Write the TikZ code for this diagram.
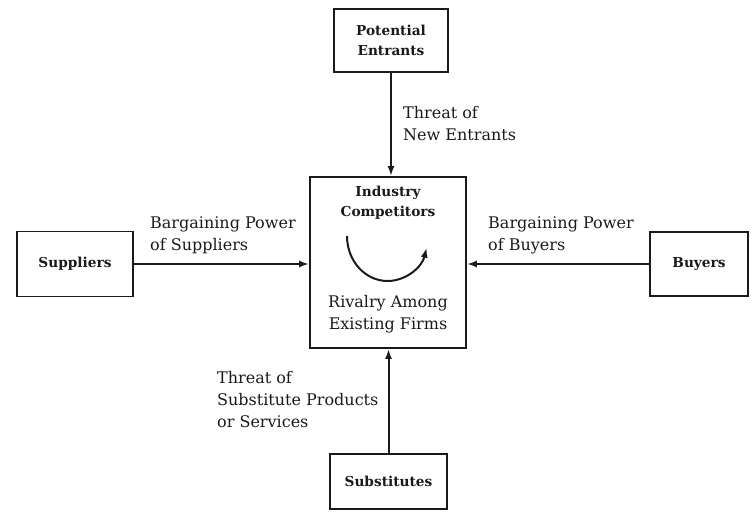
\documentclass[tikz,border=0pt]{standalone}
\usepackage{fontspec}
\setmainfont{DejaVu Serif}
\usetikzlibrary{arrows.meta}
\definecolor{ink}{HTML}{1A1A1A}
\tikzset{
  force/.style={draw=ink, line width=1.8pt, inner sep=0pt},
  boxtext/.style={font=\bfseries\fontsize{13.7}{20}\selectfont, text=ink, align=center},
  lbl/.style={font=\fontsize{16}{22}\selectfont, text=ink, align=left, anchor=west, inner sep=0pt},
  flowline/.style={draw=ink, line width=2pt, -{Latex[length=10pt,width=7pt]}}
}
\begin{document}
\begin{tikzpicture}[x=1pt,y=1pt]
\useasboundingbox (0,0) rectangle (752,512);

% the five forces
\node[force, boxtext, minimum width=114pt, minimum height=63pt] (pe) at (391,471.5) {Potential\\Entrants};
\node[force, minimum width=156pt, minimum height=171pt] (ic) at (388,249.5) {};
\node[force, boxtext, minimum width=116pt, minimum height=65pt] (sup) at (75,248) {Suppliers};
\node[force, boxtext, minimum width=98pt, minimum height=64pt] (buy) at (699,248) {Buyers};
\node[force, boxtext, minimum width=117pt, minimum height=55pt] (sub) at (388.5,30.5) {Substitutes};

% contents of the central box
\node[boxtext] (ictitle) at (388,309) {Industry\\Competitors};
\node[font=\fontsize{16}{22}\selectfont, text=ink, align=center] (rivalry) at (388,197.5) {Rivalry Among\\Existing Firms};
\coordinate (rs) at (347,276);
\draw[flowline, line width=2pt] (rs) arc[start angle=180, end angle=345, x radius=40.5pt, y radius=45pt];

% arrows into the industry
\draw[flowline, line width=2pt] (pe.south) -- (pe.south |- ic.north);
\draw[flowline, line width=2pt] (sub.north) -- (sub.north |- ic.south);
\draw[flowline, line width=2pt] (sup.east) -- (sup.east -| ic.west);
\draw[flowline, line width=2pt] (buy.west) -- (buy.west -| ic.east);

% arrow labels
\node[lbl] (lnew) at (403,388) {Threat of\\New Entrants};
\node[lbl] (lsup) at (150,277) {Bargaining Power\\of Suppliers};
\node[lbl] (lbuy) at (488,277) {Bargaining Power\\of Buyers};
\node[lbl] (lsub) at (217,112) {Threat of\\Substitute Products\\or Services};
\end{tikzpicture}
\end{document}
